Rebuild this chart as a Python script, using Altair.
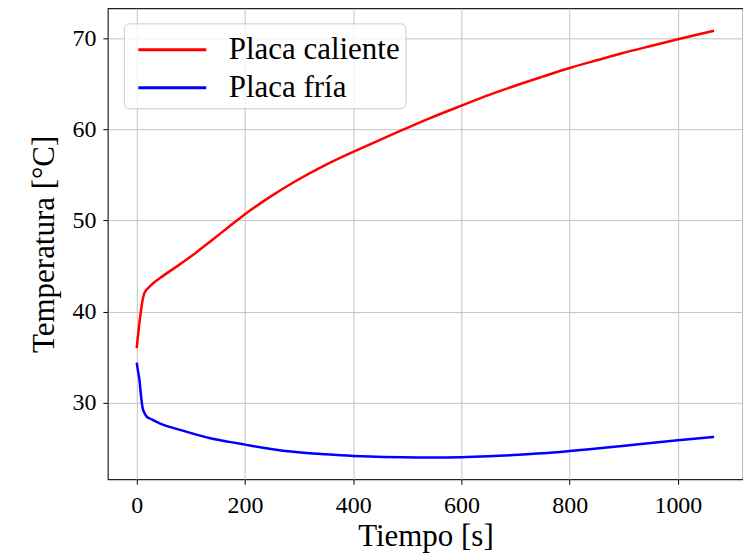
import altair as alt
import pandas as pd

tiempo = [0, 2, 5, 8, 11, 14, 18, 23, 30, 48, 75, 110, 140, 171, 200, 245, 294,
          350, 400, 430, 491, 540, 600, 650, 694, 750, 800, 850, 897, 950, 1000,
          1035, 1067]
placa_caliente = [36.0, 37.2, 38.8, 40.2, 41.3, 42.0, 42.4, 42.7, 43.1, 43.9, 45.0,
                  46.5, 47.9, 49.35, 50.7, 52.55, 54.35, 56.15, 57.55, 58.35, 59.95, 61.2,
                  62.62, 63.77, 64.7, 65.8, 66.75, 67.6, 68.38, 69.17, 69.9, 70.4, 70.85]
placa_fria = [34.4, 33.6, 32.5, 30.7, 29.4, 28.9, 28.5, 28.3, 28.1, 27.6, 27.1,
              26.5, 26.05, 25.7, 25.4, 24.95, 24.58, 24.33, 24.16, 24.09, 24.01, 23.98,
              24.02, 24.12, 24.25, 24.45, 24.7, 24.98, 25.25, 25.57, 25.88, 26.08, 26.25]
series = ["Placa caliente", "Placa fría"]
colores = ["#ff0000", "#0000ff"]
x_ticks = [0, 200, 400, 600, 800, 1000]
y_ticks = [30, 40, 50, 60, 70]

rows = []
for t, v in zip(tiempo, placa_caliente):
    rows.append({"t": t, "T": v, "serie": series[0], "o": 0})
for t, v in zip(tiempo, placa_fria):
    rows.append({"t": t, "T": v, "serie": series[1], "o": 1})
df = pd.DataFrame(rows)

FONT = "Liberation Serif"

chart = alt.Chart(df).mark_line(strokeWidth=2.5, interpolate="monotone").encode(
    x=alt.X("t:Q", title="Tiempo [s]",
            scale=alt.Scale(domain=[-53.35, 1120.35], nice=False, zero=False),
            axis=alt.Axis(values=x_ticks, format="d", labelPadding=9, titlePadding=4)),
    y=alt.Y("T:Q", title="Temperatura [°C]",
            scale=alt.Scale(domain=[21.6, 73.3], nice=False, zero=False),
            axis=alt.Axis(values=y_ticks, format="d", labelPadding=7, titlePadding=11)),
    color=alt.Color("serie:N", scale=alt.Scale(domain=series, range=colores),
                    legend=alt.Legend(
                        orient="none", legendX=16, legendY=15, title=None,
                        symbolType="M-0.6,0L2.8,0", symbolSize=1600,
                        symbolStrokeWidth=3, labelFontSize=31, labelFont=FONT,
                        labelColor="#000000", labelOffset=57, labelLimit=400,
                        padding=5, rowPadding=1,
                        fillColor="rgba(255,255,255,0.8)", strokeColor="#cccccc",
                        cornerRadius=5)),
    order="o:Q",
    detail="serie:N",
).properties(
    width=636, height=471.5,
    padding={"left": 100, "top": 0, "right": 0, "bottom": 75},
    autosize=alt.AutoSizeParams(type="none"),
    background="white",
).configure_view(
    stroke="#222222", strokeWidth=1.2
).configure_axis(
    domain=False, grid=True, gridColor="#c4c4c4", gridWidth=1,
    tickColor="#000000", tickSize=5, tickWidth=1,
    labelFont=FONT, labelFontSize=24, labelColor="#000000",
    titleFont=FONT, titleFontSize=31, titleColor="#000000", titleFontWeight="normal",
)

chart.save("out.html", embed_options={"renderer": "svg", "actions": False})
